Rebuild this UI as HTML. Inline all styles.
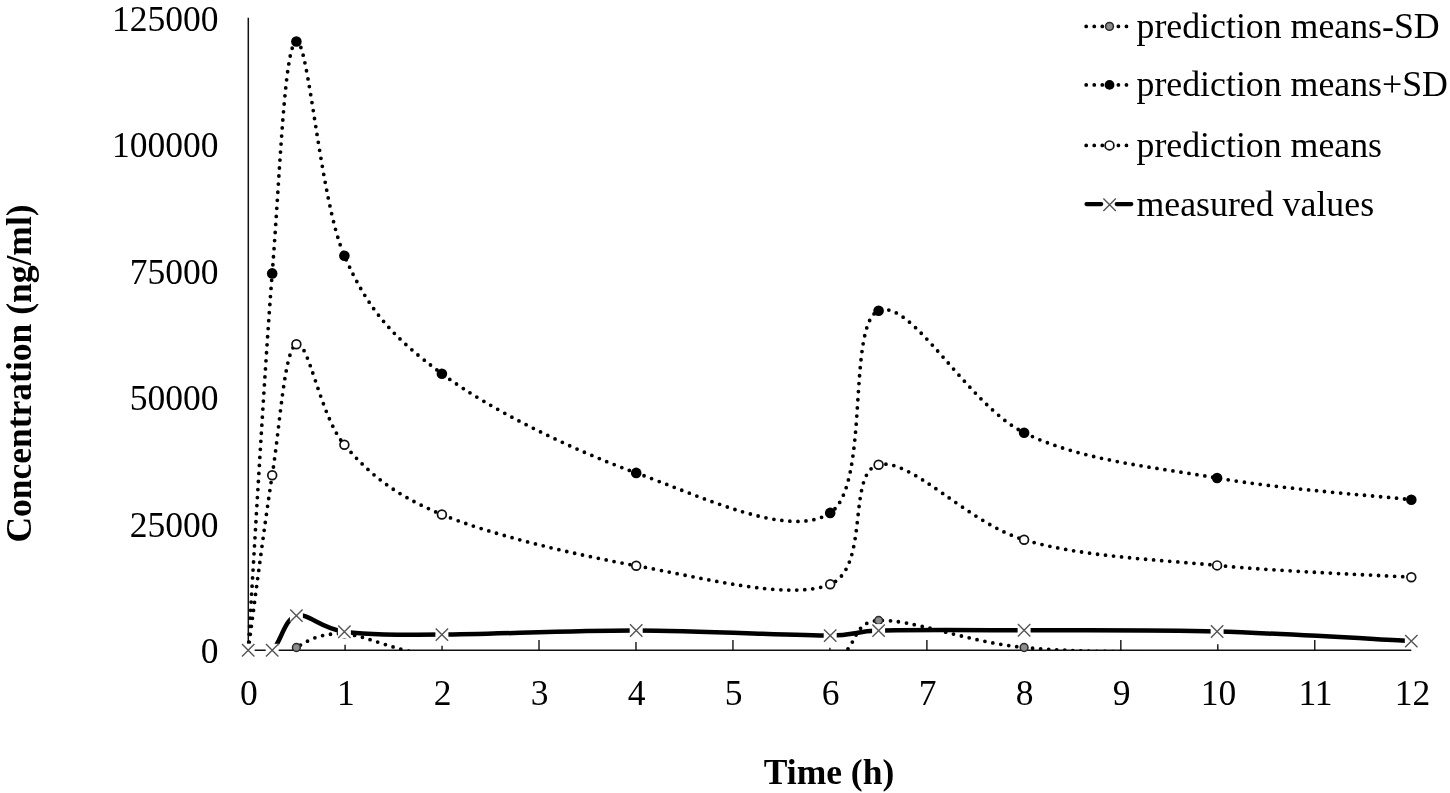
<!DOCTYPE html>
<html><head><meta charset="utf-8"><style>
html,body{margin:0;padding:0;background:#fff;}
svg{display:block;will-change:transform;}
text{font-family:"Liberation Serif",serif;}
</style></head><body>
<svg width="1450" height="793" viewBox="0 0 1450 793">
<rect width="1450" height="793" fill="#fff"/>
<defs><clipPath id="pa"><rect x="248.2" y="10" width="1170" height="640.2"/></clipPath></defs>
<line x1="248.3" y1="17.8" x2="248.3" y2="650.9" stroke="#111" stroke-width="1.5"/>
<line x1="247.6" y1="650.2" x2="1411.3" y2="650.2" stroke="#111" stroke-width="1.5"/>
<line x1="345.07" y1="644.7" x2="345.07" y2="650.2" stroke="#111" stroke-width="1.4"/>
<line x1="442.04" y1="645.8" x2="442.04" y2="650.2" stroke="#111" stroke-width="1.4"/>
<line x1="539.01" y1="639.9" x2="539.01" y2="650.2" stroke="#111" stroke-width="1.4"/>
<line x1="635.98" y1="642.0" x2="635.98" y2="650.2" stroke="#111" stroke-width="1.4"/>
<line x1="732.95" y1="639.9" x2="732.95" y2="650.2" stroke="#111" stroke-width="1.4"/>
<line x1="829.92" y1="647.7" x2="829.92" y2="650.2" stroke="#111" stroke-width="1.4"/>
<line x1="926.89" y1="639.9" x2="926.89" y2="650.2" stroke="#111" stroke-width="1.4"/>
<line x1="1120.83" y1="639.9" x2="1120.83" y2="650.2" stroke="#111" stroke-width="1.4"/>
<line x1="1217.80" y1="644.2" x2="1217.80" y2="650.2" stroke="#111" stroke-width="1.4"/>
<line x1="1314.77" y1="639.9" x2="1314.77" y2="650.2" stroke="#111" stroke-width="1.4"/>
<text x="218.6" y="663.0"  font-size="35.5" text-anchor="end">0</text>
<text x="218.6" y="536.5"  font-size="35.5" text-anchor="end">25000</text>
<text x="218.6" y="410.0"  font-size="35.5" text-anchor="end">50000</text>
<text x="218.6" y="283.6"  font-size="35.5" text-anchor="end">75000</text>
<text x="218.6" y="157.1"  font-size="35.5" text-anchor="end">100000</text>
<text x="218.6" y="30.6"  font-size="35.5" text-anchor="end">125000</text>
<text x="248.80" y="704.5"  font-size="35.5" text-anchor="middle">0</text>
<text x="345.77" y="704.5"  font-size="35.5" text-anchor="middle">1</text>
<text x="442.74" y="704.5"  font-size="35.5" text-anchor="middle">2</text>
<text x="539.71" y="704.5"  font-size="35.5" text-anchor="middle">3</text>
<text x="636.68" y="704.5"  font-size="35.5" text-anchor="middle">4</text>
<text x="733.65" y="704.5"  font-size="35.5" text-anchor="middle">5</text>
<text x="830.62" y="704.5"  font-size="35.5" text-anchor="middle">6</text>
<text x="927.59" y="704.5"  font-size="35.5" text-anchor="middle">7</text>
<text x="1024.56" y="704.5"  font-size="35.5" text-anchor="middle">8</text>
<text x="1121.53" y="704.5"  font-size="35.5" text-anchor="middle">9</text>
<text x="1218.50" y="704.5"  font-size="35.5" text-anchor="middle">10</text>
<text x="1315.47" y="704.5"  font-size="35.5" text-anchor="middle">11</text>
<text x="1412.44" y="704.5"  font-size="35.5" text-anchor="middle">12</text>
<text x="829" y="783.6"  font-size="35.5" font-weight="bold" text-anchor="middle">Time (h)</text>
<text transform="translate(30.9,373.5) rotate(-90)"  font-size="35.5" font-weight="bold" text-anchor="middle">Concentration (ng/ml)</text>
<path d="M248.20,650.20 C252.20,654.67 264.17,677.45 272.20,677.00 C280.23,676.55 284.37,654.67 296.40,647.50 C308.43,640.33 320.15,632.53 344.40,634.00 C368.65,635.47 393.27,652.22 441.90,656.30 C490.53,660.38 571.48,658.13 636.20,658.50 C700.92,658.87 789.80,664.83 830.20,658.50 C860.60,653.73 847.88,622.24 878.60,620.50 C910.92,618.67 967.68,642.12 1024.10,647.50 C1080.52,652.88 1152.57,651.60 1217.10,652.80 C1281.63,654.00 1378.93,654.38 1411.30,654.70" fill="none" stroke="#000" stroke-width="3.8" stroke-linecap="round" stroke-dasharray="0 8.05" clip-path="url(#pa)"/>
<circle cx="296.4" cy="647.5" r="3.9" fill="#8c8c8c" stroke="#2a2a2a" stroke-width="1.5"/>
<circle cx="344.4" cy="634.0" r="3.9" fill="#8c8c8c" stroke="#2a2a2a" stroke-width="1.5"/>
<circle cx="878.6" cy="620.5" r="3.9" fill="#8c8c8c" stroke="#2a2a2a" stroke-width="1.5"/>
<circle cx="1024.1" cy="647.5" r="3.9" fill="#8c8c8c" stroke="#2a2a2a" stroke-width="1.5"/>
<path d="M248.20,650.20 C252.20,587.40 264.17,374.85 272.20,273.40 C280.23,171.95 284.37,44.43 296.40,41.50 C308.43,38.57 320.15,200.43 344.40,255.80 C368.65,311.17 393.27,337.52 441.90,373.70 C490.53,409.88 571.48,449.70 636.20,472.90 C700.92,496.10 789.80,539.93 830.20,512.90 C870.60,485.87 846.28,324.07 878.60,310.70 C910.92,297.33 967.68,404.82 1024.10,432.70 C1080.52,460.58 1152.57,466.83 1217.10,478.00 C1281.63,489.17 1378.93,496.08 1411.30,499.70" fill="none" stroke="#000" stroke-width="3.8" stroke-linecap="round" stroke-dasharray="0 8.05"/>
<circle cx="272.2" cy="273.4" r="5.3" fill="#000"/>
<circle cx="296.4" cy="41.5" r="5.3" fill="#000"/>
<circle cx="344.4" cy="255.8" r="5.3" fill="#000"/>
<circle cx="441.9" cy="373.7" r="5.3" fill="#000"/>
<circle cx="636.2" cy="472.9" r="5.3" fill="#000"/>
<circle cx="830.2" cy="512.9" r="5.3" fill="#000"/>
<circle cx="878.6" cy="310.7" r="5.3" fill="#000"/>
<circle cx="1024.1" cy="432.7" r="5.3" fill="#000"/>
<circle cx="1217.1" cy="478.0" r="5.3" fill="#000"/>
<circle cx="1411.3" cy="499.7" r="5.3" fill="#000"/>
<path d="M248.20,650.20 C252.20,621.03 264.17,526.20 272.20,475.20 C280.23,424.20 284.37,349.27 296.40,344.20 C308.43,339.13 320.15,416.42 344.40,444.80 C368.65,473.18 393.27,494.35 441.90,514.50 C490.53,534.65 571.48,554.07 636.20,565.70 C700.92,577.33 789.80,601.13 830.20,584.30 C870.60,567.47 846.28,472.12 878.60,464.70 C910.92,457.28 967.68,523.02 1024.10,539.80 C1080.52,556.58 1152.57,559.17 1217.10,565.40 C1281.63,571.63 1378.93,575.23 1411.30,577.20" fill="none" stroke="#000" stroke-width="3.8" stroke-linecap="round" stroke-dasharray="0 8.05"/>
<circle cx="272.2" cy="475.2" r="4.4" fill="#fff" stroke="#111" stroke-width="1.7"/>
<circle cx="296.4" cy="344.2" r="4.4" fill="#fff" stroke="#111" stroke-width="1.7"/>
<circle cx="344.4" cy="444.8" r="4.4" fill="#fff" stroke="#111" stroke-width="1.7"/>
<circle cx="441.9" cy="514.5" r="4.4" fill="#fff" stroke="#111" stroke-width="1.7"/>
<circle cx="636.2" cy="565.7" r="4.4" fill="#fff" stroke="#111" stroke-width="1.7"/>
<circle cx="830.2" cy="584.3" r="4.4" fill="#fff" stroke="#111" stroke-width="1.7"/>
<circle cx="878.6" cy="464.7" r="4.4" fill="#fff" stroke="#111" stroke-width="1.7"/>
<circle cx="1024.1" cy="539.8" r="4.4" fill="#fff" stroke="#111" stroke-width="1.7"/>
<circle cx="1217.1" cy="565.4" r="4.4" fill="#fff" stroke="#111" stroke-width="1.7"/>
<circle cx="1411.3" cy="577.2" r="4.4" fill="#fff" stroke="#111" stroke-width="1.7"/>
<path d="M272.20,650.30 C280.23,644.53 284.37,618.70 296.40,615.60 C308.43,612.50 320.15,628.53 344.40,631.70 C368.65,634.87 393.27,634.80 441.90,634.60 C490.53,634.40 571.48,630.33 636.20,630.50 C700.92,630.67 789.80,635.58 830.20,635.60 C854.53,635.61 854.28,631.26 878.60,630.60 C910.92,629.72 967.68,630.15 1024.10,630.30 C1080.52,630.45 1152.57,629.70 1217.10,631.50 C1281.63,633.30 1378.93,639.50 1411.30,641.10" fill="none" stroke="#000" stroke-width="4.5" stroke-linejoin="round"/>
<rect x="241.70" y="643.70" width="13" height="13" fill="#fff"/>
<path d="M242.00,644.00 L254.40,656.40 M254.40,644.00 L242.00,656.40" stroke="#555" stroke-width="1.4"/>
<rect x="265.70" y="643.80" width="13" height="13" fill="#fff"/>
<path d="M266.00,644.10 L278.40,656.50 M278.40,644.10 L266.00,656.50" stroke="#555" stroke-width="1.4"/>
<rect x="289.90" y="609.10" width="13" height="13" fill="#fff"/>
<path d="M290.20,609.40 L302.60,621.80 M302.60,609.40 L290.20,621.80" stroke="#555" stroke-width="1.4"/>
<rect x="337.90" y="625.20" width="13" height="13" fill="#fff"/>
<path d="M338.20,625.50 L350.60,637.90 M350.60,625.50 L338.20,637.90" stroke="#555" stroke-width="1.4"/>
<rect x="435.40" y="628.10" width="13" height="13" fill="#fff"/>
<path d="M435.70,628.40 L448.10,640.80 M448.10,628.40 L435.70,640.80" stroke="#555" stroke-width="1.4"/>
<rect x="629.70" y="624.00" width="13" height="13" fill="#fff"/>
<path d="M630.00,624.30 L642.40,636.70 M642.40,624.30 L630.00,636.70" stroke="#555" stroke-width="1.4"/>
<rect x="823.70" y="629.10" width="13" height="13" fill="#fff"/>
<path d="M824.00,629.40 L836.40,641.80 M836.40,629.40 L824.00,641.80" stroke="#555" stroke-width="1.4"/>
<rect x="872.10" y="624.10" width="13" height="13" fill="#fff"/>
<path d="M872.40,624.40 L884.80,636.80 M884.80,624.40 L872.40,636.80" stroke="#555" stroke-width="1.4"/>
<rect x="1017.60" y="623.80" width="13" height="13" fill="#fff"/>
<path d="M1017.90,624.10 L1030.30,636.50 M1030.30,624.10 L1017.90,636.50" stroke="#555" stroke-width="1.4"/>
<rect x="1210.60" y="625.00" width="13" height="13" fill="#fff"/>
<path d="M1210.90,625.30 L1223.30,637.70 M1223.30,625.30 L1210.90,637.70" stroke="#555" stroke-width="1.4"/>
<rect x="1404.80" y="634.60" width="13" height="13" fill="#fff"/>
<path d="M1405.10,634.90 L1417.50,647.30 M1417.50,634.90 L1405.10,647.30" stroke="#555" stroke-width="1.4"/>
<path d="M1086.2,26.4 L1129.3,26.4" fill="none" stroke="#000" stroke-width="3.8" stroke-linecap="round" stroke-dasharray="0 8.05"/>
<circle cx="1109.5" cy="26.4" r="3.9" fill="#8c8c8c" stroke="#2a2a2a" stroke-width="1.5"/>
<text x="1136.5" y="37.6"  font-size="35.8">prediction means-SD</text>
<path d="M1086.2,84.9 L1129.3,84.9" fill="none" stroke="#000" stroke-width="3.8" stroke-linecap="round" stroke-dasharray="0 8.05"/>
<circle cx="1109.5" cy="84.9" r="4.9" fill="#000"/>
<text x="1136.5" y="96.1"  font-size="35.8">prediction means+SD</text>
<path d="M1086.2,145.4 L1129.3,145.4" fill="none" stroke="#000" stroke-width="3.8" stroke-linecap="round" stroke-dasharray="0 8.05"/>
<circle cx="1109.5" cy="145.4" r="4.4" fill="#fff" stroke="#111" stroke-width="1.7"/>
<text x="1136.5" y="156.6"  font-size="35.8">prediction means</text>
<path d="M1086.5,204.1 L1101.2,204.1 M1116.7,204.1 L1131.3,204.1" stroke="#000" stroke-width="4.2" stroke-linecap="round"/>
<path d="M1103.40,198.50 L1115.80,210.90 M1115.80,198.50 L1103.40,210.90" stroke="#555" stroke-width="1.4"/>
<text x="1136.5" y="215.6"  font-size="35.8">measured values</text>
</svg>
</body></html>
